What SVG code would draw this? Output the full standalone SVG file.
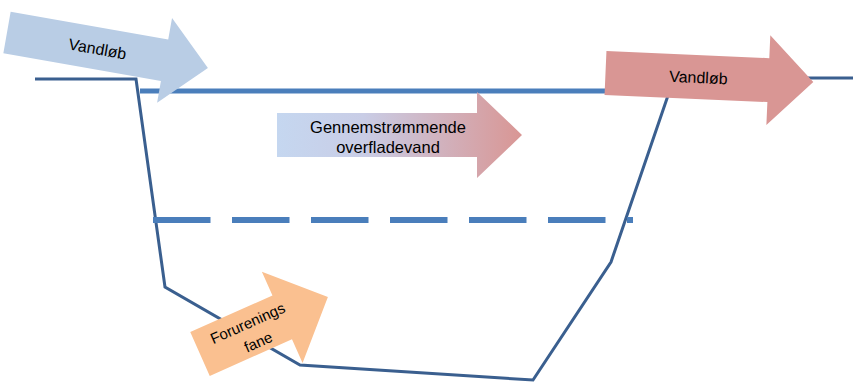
<svg xmlns="http://www.w3.org/2000/svg" width="853" height="383" viewBox="0 0 853 383">
<style>
.lbl{font-family:"Liberation Sans",Arial,sans-serif;fill:#000;text-anchor:middle}
.profile{fill:none;stroke:#3a5f8f;stroke-width:3;stroke-linejoin:miter}
.water{fill:none;stroke:#4a7ebb;stroke-width:5}
.water-dash{fill:none;stroke:#4a7ebb;stroke-width:6;stroke-dasharray:57.5 21.5}
</style>
<defs>
<linearGradient id="gradFlow" x1="277" y1="0" x2="522" y2="0" gradientUnits="userSpaceOnUse">
<stop offset="0" stop-color="#c5d7f0"/>
<stop offset="0.35" stop-color="#c9cde6"/>
<stop offset="1" stop-color="#d99694"/>
</linearGradient>
</defs>
<rect width="853" height="383" fill="#fff"/>
<g id="connectors">
<polyline class="profile" points="35,79 136,79 165,287 300,365 533,380 611,262 674,78 853,78"/>
<line class="water" x1="140" y1="91" x2="610" y2="91"/>
<line class="water-dash" x1="153" y1="220" x2="633" y2="220"/>
</g>
<g id="arrow-vandlob-left" transform="translate(7,32.5) rotate(10)">
<polygon points="0,-21 160,-21 160,-43 204,0 160,43 160,21 0,21" fill="#b9cde5"/>
<text class="lbl" x="92" y="6" font-size="16">Vandløb</text>
</g>
<g id="arrow-vandlob-right" transform="translate(605.5,73) rotate(2.5)">
<polygon points="0,-22 163,-22 163,-45 208,0 163,45 163,22 0,22" fill="#d99694"/>
<text class="lbl" x="93" y="6" font-size="16">Vandløb</text>
</g>
<g id="arrow-gennemstromning">
<polygon points="277,113 477,113 477,92 522,135 477,178 477,157 277,157" fill="url(#gradFlow)"/>
<text class="lbl" x="388" y="133" font-size="16.5">Gennemstrømmende</text>
<text class="lbl" x="388" y="153" font-size="16.5">overfladevand</text>
</g>
<g id="arrow-forurening" transform="translate(200,354) rotate(-24)">
<polygon points="0,-24 90,-24 90,-50 140,0 90,50 90,24 0,24" fill="#fac090"/>
<text class="lbl" x="56" y="-3.5" font-size="15">Forurenings</text>
<text class="lbl" x="58" y="18" font-size="15">fane</text>
</g>
</svg>
